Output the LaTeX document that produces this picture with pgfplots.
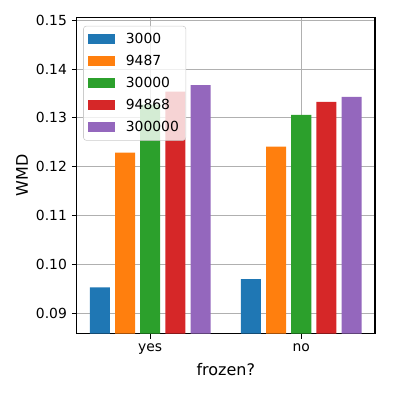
\documentclass[border=0pt]{standalone}
\usepackage{fontspec}
\setmainfont{DejaVu Sans}
\usepackage{pgfplots}
\pgfplotsset{compat=1.18}

\definecolor{c3000}{HTML}{1F77B4}
\definecolor{c9487}{HTML}{FF7F0E}
\definecolor{c30000}{HTML}{2CA02C}
\definecolor{c94868}{HTML}{D62728}
\definecolor{c300000}{HTML}{9467BD}
\definecolor{gridgray}{HTML}{B0B0B0}

% 1 px of the reference = 0.72pt
\begin{document}
\begin{tikzpicture}
\useasboundingbox (-55.2pt,-42.7pt) rectangle (227.8pt,240.3pt);
\begin{axis}[
    ybar, bar width=0.1325,
    at={(0,0)}, anchor=south west,
    scale only axis,
    width=214.8pt, height=227.8pt,
    xmin=-0.487, xmax=1.488,
    ymin=0.0858, ymax=0.1506,
    xtick={0,1}, xticklabels={yes,no},
    ytick={0.09,0.10,0.11,0.12,0.13,0.14,0.15},
    yticklabel style={/pgf/number format/.cd,fixed,fixed zerofill,precision=2},
    /pgf/number format/assume math mode=true,
    tick label style={font=\fontsize{10}{12}\selectfont},
    xlabel={frozen?}, ylabel={WMD},
    every axis x label/.style={at={(axis description cs:0.5,0)}, anchor=center,
        yshift=-26.1pt, font=\fontsize{11.5}{13}\selectfont},
    every axis y label/.style={at={(axis description cs:0,0.5)}, xshift=-39.4pt,
        rotate=90, anchor=center, font=\fontsize{11.5}{13}\selectfont},
    axis line style={line width=0.8pt},
    tick style={line width=0.8pt, black},
    tick align=outside, major tick length=3.5pt,
    xtick pos=bottom, ytick pos=left,
    grid=major, grid style={gridgray, line width=0.8pt},
    legend style={at={(0.022,0.973)}, anchor=north west,
        font=\fontsize{10}{12}\selectfont,
        draw=black!20, rounded corners=2pt, fill=white, fill opacity=0.8, text opacity=1,
        inner xsep=3pt, inner ysep=3pt, row sep=2.9pt,
        /tikz/every odd column/.append style={column sep=5.5pt}},
    legend cell align=left,
    legend image code/.code={\fill[#1, sharp corners, fill opacity=1] (0pt,-3.6pt) rectangle (20pt,3.6pt);},
]
\addplot[fill=c3000, draw=none, bar shift=-0.3333] coordinates {(0,0.0953) (1,0.0970)};
\addlegendentry{3000}
\addplot[fill=c9487, draw=none, bar shift=-0.1667] coordinates {(0,0.1229) (1,0.1241)};
\addlegendentry{9487}
\addplot[fill=c30000, draw=none, bar shift=0] coordinates {(0,0.1327) (1,0.1306)};
\addlegendentry{30000}
\addplot[fill=c94868, draw=none, bar shift=0.1667] coordinates {(0,0.1354) (1,0.1333)};
\addlegendentry{94868}
\addplot[fill=c300000, draw=none, bar shift=0.3333] coordinates {(0,0.1367) (1,0.1343)};
\addlegendentry{300000}
\end{axis}
\end{tikzpicture}
\end{document}
